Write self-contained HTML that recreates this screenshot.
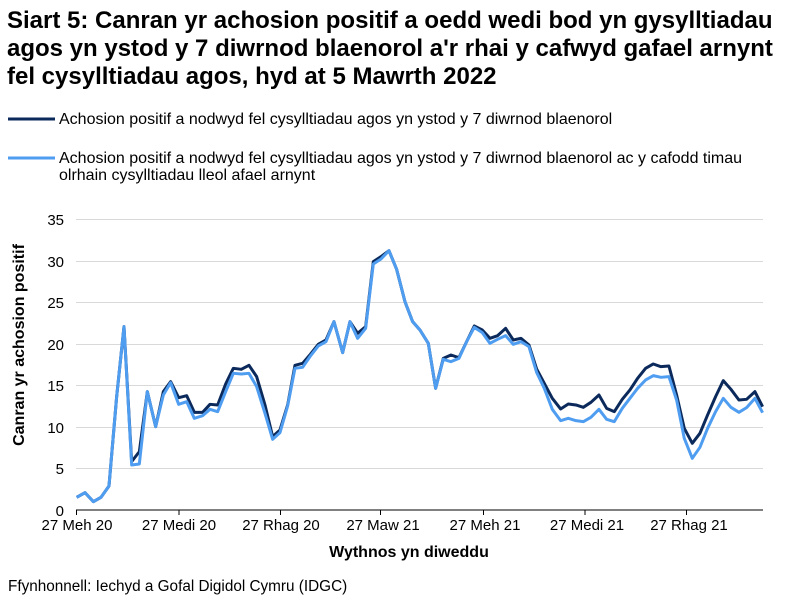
<!DOCTYPE html>
<html><head><meta charset="utf-8"><style>
body{margin:0;background:#fff;font-family:"Liberation Sans",Arial,sans-serif}
</style></head><body>
<svg width="788" height="604" xmlns="http://www.w3.org/2000/svg" font-family="Liberation Sans, Arial, sans-serif">
<rect width="788" height="604" fill="#fff"/>
<g font-weight="bold" font-size="24" fill="#000">
<text x="7" y="28">Siart 5: Canran yr achosion positif a oedd wedi bod yn gysylltiadau</text>
<text x="7" y="56">agos yn ystod y 7 diwrnod blaenorol a'r rhai y cafwyd gafael arnynt</text>
<text x="7" y="84">fel cysylltiadau agos, hyd at 5 Mawrth 2022</text>
</g>
<line x1="8" y1="119" x2="55" y2="119" stroke="#0b2a5b" stroke-width="3"/>
<line x1="8" y1="158" x2="55" y2="158" stroke="#4f9df0" stroke-width="3"/>
<g font-size="16" fill="#000">
<text x="59" y="124">Achosion positif a nodwyd fel cysylltiadau agos yn ystod y 7 diwrnod blaenorol</text>
<text x="59" y="163">Achosion positif a nodwyd fel cysylltiadau agos yn ystod y 7 diwrnod blaenorol ac y cafodd timau</text>
<text x="59" y="180">olrhain cysylltiadau lleol afael arnynt</text>
</g>
<g stroke="#d9d9d9" stroke-width="1">
<line x1="76" x2="763" y1="219.5" y2="219.5"/><line x1="76" x2="763" y1="261.5" y2="261.5"/>
<line x1="76" x2="763" y1="302.5" y2="302.5"/><line x1="76" x2="763" y1="344.5" y2="344.5"/>
<line x1="76" x2="763" y1="385.5" y2="385.5"/><line x1="76" x2="763" y1="427.5" y2="427.5"/>
<line x1="76" x2="763" y1="468.5" y2="468.5"/>
</g>
<line x1="76" x2="763" y1="510" y2="510" stroke="#000" stroke-width="1"/>
<g stroke="#000" stroke-width="1">
<line x1="76.5" x2="76.5" y1="510" y2="515"/><line x1="179" x2="179" y1="510" y2="515"/>
<line x1="280.5" x2="280.5" y1="510" y2="515"/><line x1="380.5" x2="380.5" y1="510" y2="515"/>
<line x1="483.5" x2="483.5" y1="510" y2="515"/><line x1="585" x2="585" y1="510" y2="515"/>
<line x1="686.5" x2="686.5" y1="510" y2="515"/>
</g>
<g font-size="15" fill="#000" text-anchor="end">
<text x="64" y="225">35</text><text x="64" y="267">30</text><text x="64" y="308">25</text>
<text x="64" y="350">20</text><text x="64" y="391">15</text><text x="64" y="433">10</text>
<text x="64" y="474">5</text><text x="64" y="516">0</text>
</g>
<g font-size="15" fill="#000" text-anchor="middle">
<text x="77" y="530">27 Meh 20</text><text x="179" y="530">27 Medi 20</text>
<text x="281" y="530">27 Rhag 20</text><text x="383" y="530">27 Maw 21</text>
<text x="485" y="530">27 Meh 21</text><text x="587" y="530">27 Medi 21</text>
<text x="689" y="530">27 Rhag 21</text>
</g>
<text x="409" y="557" font-size="16" font-weight="bold" text-anchor="middle">Wythnos yn diweddu</text>
<text transform="translate(24,345) rotate(-90)" font-size="16" font-weight="bold" text-anchor="middle">Canran yr achosion positif</text>
<text x="8" y="591" font-size="15.3">Ffynhonnell: Iechyd a Gofal Digidol Cymru (IDGC)</text>
<g transform="translate(70,210) scale(0.3333)" fill="none" stroke-linejoin="round" stroke-width="9">
<polyline stroke="#0b2a5b" points="20,862 45,848 70,875 93,862 117,828 140,560 162,350 185,755 208,725 232,545 257,650 280,545 302,515 326,563 350,557 373,607 398,607 420,583 443,585 467,522 490,475 514,478 537,466 560,500 585,585 608,680 630,660 653,585 675,466 698,460 722,432 745,403 768,390 792,335 818,428 840,335 863,370 887,350 910,155 933,140 957,122 980,178 1005,275 1028,335 1050,360 1075,400 1097,535 1120,445 1143,435 1167,443 1190,395 1213,348 1237,360 1260,385 1283,377 1307,355 1330,390 1353,385 1377,405 1400,477 1423,520 1447,565 1472,597 1495,582 1518,585 1540,592 1563,577 1587,555 1610,595 1633,605 1657,568 1680,540 1703,505 1727,475 1750,462 1773,470 1797,468 1820,555 1843,655 1867,700 1890,670 1913,615 1937,560 1960,512 1983,538 2007,570 2030,568 2055,545 2078,590"/>
<polyline stroke="#4f9df0" points="20,862 45,848 70,875 93,862 117,828 140,560 162,350 185,765 208,762 232,545 257,650 280,555 302,518 326,583 350,575 373,625 398,617 420,598 443,605 467,545 490,490 514,492 537,490 560,530 585,610 608,688 630,668 653,588 675,475 698,472 722,437 745,408 768,395 792,335 818,428 840,335 863,385 887,355 910,162 933,147 957,122 980,178 1005,275 1028,335 1050,360 1075,400 1097,535 1120,448 1143,455 1167,445 1190,395 1213,352 1237,368 1260,400 1283,388 1307,377 1330,403 1353,395 1377,410 1400,487 1423,535 1447,598 1472,632 1495,625 1518,632 1540,635 1563,622 1587,598 1610,628 1633,635 1657,595 1680,565 1703,535 1727,510 1750,497 1773,502 1797,500 1820,570 1843,685 1867,745 1890,712 1913,655 1937,605 1960,565 1983,592 2007,607 2030,593 2055,565 2078,608"/>
</g>
</svg>
</body></html>
